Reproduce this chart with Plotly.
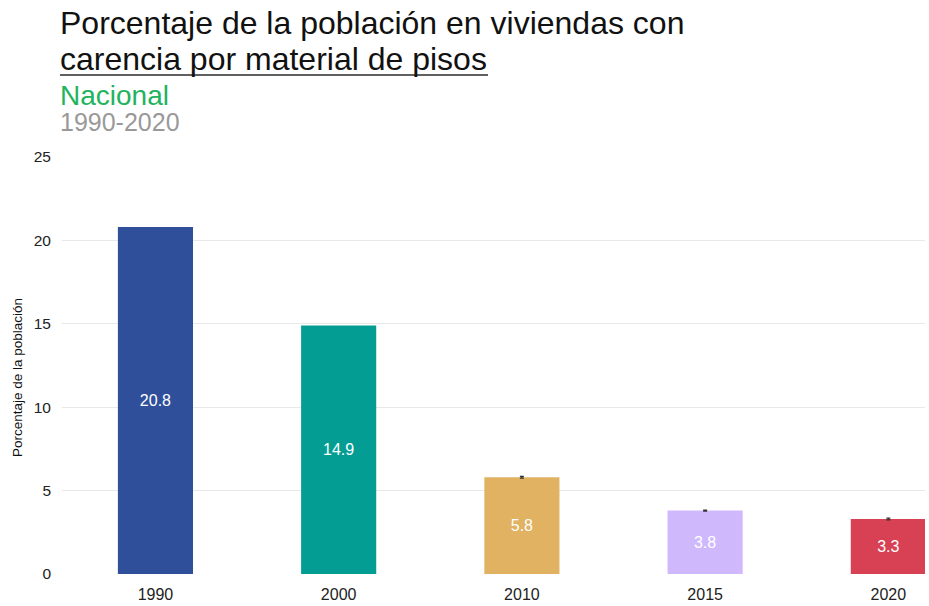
import plotly.graph_objects as go

years = ["1990", "2000", "2010", "2015", "2020"]
values = [20.8, 14.9, 5.8, 3.8, 3.3]
err_years = ["2010", "2015", "2020"]
err_values = [5.8, 3.8, 3.3]
errors = [0.05, 0.03, 0.05]
colors = ["#304f9a", "#049d94", "#e0b262", "#d0b8fc", "#d84153"]
y_ticks = [0, 5, 10, 15, 20, 25]

PL, PR, PT, PB = 62, 925, 157, 574  # plot area in pixels

fig = go.Figure()
fig.add_trace(go.Bar(
    x=years, y=values,
    marker=dict(color=colors, line=dict(width=0)),
    width=0.41,
    text=[f"{v:.1f}" for v in values],
    textposition="inside", insidetextanchor="middle",
    textfont=dict(color="white", size=16, family="Liberation Sans, Arial"),
    hoverinfo="x+y",
))
fig.add_trace(go.Scatter(
    x=err_years, y=err_values, mode="markers",
    marker=dict(size=1, color="rgba(0,0,0,0)"),
    error_y=dict(type="data", array=errors, visible=True, color="#333333", thickness=1.2, width=2),
    hoverinfo="skip",
))

fig.update_layout(
    width=929, height=606,
    margin=dict(l=PL, r=929 - PR, t=PT, b=606 - PB),
    paper_bgcolor="white", plot_bgcolor="white",
    font=dict(family="Liberation Sans, Arial", color="#333333"),
    showlegend=False,
    xaxis=dict(range=[-0.51, 4.2], showgrid=False, showline=False, ticks="",
               ticklabelstandoff=9,
               tickfont=dict(size=16, color="#222222")),
    yaxis=dict(range=[0, 25], tickvals=y_ticks, gridcolor="#e8e8e8", gridwidth=1,
               zeroline=False, showline=False, ticks="", ticklabelstandoff=10,
               tickfont=dict(size=15.5, color="#222222")),
)

H = PB - PT
W = PR - PL

# y-axis title
fig.add_annotation(text="Porcentaje de la población", xref="paper", yref="paper",
                   x=(17 - PL) / W, y=(PB - 378) / H, textangle=-90,
                   xanchor="center", yanchor="middle", showarrow=False,
                   font=dict(size=13.5, color="#111111", family="Liberation Sans, Arial"))

title_lines = [
    ("Porcentaje de la población en viviendas con", 32, "#111111", 23),
    ("carencia por material de pisos", 32, "#111111", 59),
    ("Nacional", 28, "#22b35e", 95),
    ("1990-2020", 25, "#999999", 122),
]
for text, size, color, ypx in title_lines:
    fig.add_annotation(text=text, xref="paper", yref="paper",
                       x=(58 - PL) / W, y=1 + (PT - ypx) / H,
                       xanchor="left", yanchor="middle", showarrow=False,
                       font=dict(size=size, color=color, family="Liberation Sans, Arial"))

# underline under the second title line
fig.add_shape(type="line", xref="paper", yref="paper",
              x0=(60 - PL) / W, x1=(488 - PL) / W,
              y0=1 + (PT - 75) / H, y1=1 + (PT - 75) / H,
              line=dict(color="#606060", width=2))

fig.write_html("out.html", config={"displayModeBar": False},
               post_script="document.body.style.margin='0';")
